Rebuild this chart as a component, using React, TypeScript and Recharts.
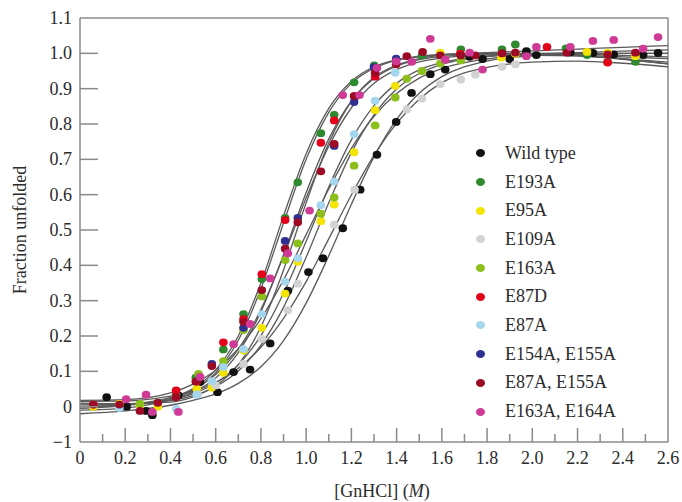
import React from "react"
import { ComposedChart, Line, Scatter, XAxis, YAxis, ReferenceLine } from "recharts"

// measured points, [GnHCl] (M) vs fraction unfolded
const wildType = [[0.118,0.027],[0.206,0.0],[0.292,-0.012],[0.32,-0.024],[0.435,0.032],[0.531,0.07],[0.608,0.041],[0.679,0.098],[0.752,0.105],[0.841,0.179],[0.919,0.328],[1.01,0.381],[1.074,0.42],[1.162,0.505],[1.239,0.614],[1.313,0.713],[1.398,0.806],[1.466,0.888],[1.549,0.941],[1.615,0.954],[1.723,0.99],[1.78,0.984],[1.9,0.984],[1.974,1.006],[2.018,0.995],[2.168,1.003],[2.268,1.001],[2.36,0.997],[2.49,0.995],[2.556,1.001]]
const e193a = [[0.265,0.006],[0.344,0.011],[0.425,0.034],[0.512,0.082],[0.634,0.162],[0.723,0.262],[0.804,0.361],[0.907,0.534],[0.963,0.635],[1.065,0.774],[1.124,0.826],[1.212,0.918],[1.301,0.966],[1.512,0.994],[1.684,1.011],[1.866,1.011],[1.925,1.025],[2.149,1.014],[2.242,0.995],[2.333,0.976],[2.456,0.976]]
const e95a = [[0.059,0.0],[0.174,0.008],[0.265,0.005],[0.344,0.0],[0.516,0.051],[0.583,0.054],[0.634,0.096],[0.723,0.159],[0.804,0.223],[0.907,0.32],[0.963,0.41],[1.065,0.525],[1.124,0.572],[1.212,0.72],[1.305,0.839],[1.394,0.908],[1.593,1.002],[1.863,0.988],[1.925,0.999],[2.242,1.004],[2.333,1.002],[2.456,0.992]]
const e109a = [[0.52,0.035],[0.6,0.06],[0.723,0.121],[0.804,0.192],[0.919,0.273],[0.963,0.348],[1.124,0.515],[1.214,0.614],[1.445,0.841],[1.512,0.872],[1.593,0.913],[1.684,0.926],[1.748,0.94],[1.866,0.962],[1.925,0.969]]
const e163a = [[0.265,0.008],[0.524,0.093],[0.634,0.129],[0.723,0.217],[0.804,0.312],[0.907,0.415],[0.963,0.462],[1.065,0.546],[1.124,0.592],[1.212,0.682],[1.305,0.796],[1.394,0.875],[1.445,0.928],[1.512,0.95],[1.593,0.971],[1.684,0.98]]
const e87d = [[0.059,0.006],[0.425,0.046],[0.516,0.071],[0.634,0.182],[0.723,0.248],[0.804,0.375],[0.907,0.528],[1.065,0.747],[1.124,0.81],[1.212,0.879],[1.305,0.934],[1.681,0.999],[1.866,1.0],[2.065,1.018],[2.333,0.974]]
const e87a = [[0.174,-0.004],[0.425,-0.006],[0.516,0.034],[0.583,0.072],[0.634,0.112],[0.723,0.163],[0.804,0.262],[0.907,0.354],[0.963,0.42],[1.065,0.57],[1.124,0.637],[1.212,0.771],[1.305,0.866],[1.394,0.945]]
const e154a155a = [[0.583,0.121],[0.723,0.223],[0.907,0.469],[0.963,0.534],[1.124,0.738],[1.212,0.862],[1.3,0.961],[1.398,0.985]]
const e87a155a = [[0.059,0.006],[0.174,0.006],[0.265,-0.012],[0.344,0.011],[0.425,0.027],[0.512,0.071],[0.583,0.115],[0.723,0.24],[0.804,0.33],[0.907,0.447],[0.963,0.522],[1.065,0.666],[1.124,0.744],[1.212,0.879],[1.305,0.945],[1.398,0.969],[1.445,0.992],[1.515,1.004],[1.593,0.994],[1.684,0.994],[1.748,0.994],[1.866,1.0],[1.925,1.002],[2.153,1.002],[2.333,0.997],[2.456,1.002]]
const e163a164a = [[0.204,0.021],[0.292,0.034],[0.32,-0.015],[0.435,-0.015],[0.531,0.084],[0.679,0.177],[0.752,0.234],[0.841,0.363],[0.919,0.434],[1.015,0.555],[1.162,0.882],[1.236,0.882],[1.313,0.959],[1.398,0.977],[1.467,0.976],[1.549,1.041],[1.615,0.982],[1.723,1.002],[1.78,0.954],[1.974,0.992],[2.018,1.018],[2.168,1.018],[2.268,1.035],[2.36,1.038],[2.49,1.013],[2.556,1.046]]

// fitted curves at these x positions
const curveX = [0, 0.2, 0.4, 0.5, 0.6, 0.7, 0.8, 0.9, 1.0, 1.1, 1.2, 1.3, 1.4, 1.5, 1.6, 1.8, 2.0, 2.2, 2.4, 2.6]
const wildTypeFit = [-0.02, -0.012, 0.004, 0.018, 0.036, 0.066, 0.113, 0.187, 0.293, 0.427, 0.573, 0.707, 0.813, 0.887, 0.934, 0.978, 0.993, 0.998, 1.0, 1.0]
const e193aFit = [-0.01, -0.004, 0.022, 0.051, 0.104, 0.2, 0.35, 0.54, 0.716, 0.844, 0.921, 0.962, 0.982, 0.992, 0.997, 1.0, 0.998, 0.993, 0.985, 0.975]
const e95aFit = [0.0, 0.004, 0.017, 0.031, 0.057, 0.101, 0.174, 0.281, 0.423, 0.577, 0.719, 0.826, 0.899, 0.943, 0.969, 0.991, 0.997, 0.995, 0.99, 0.985]
const e109aFit = [0.015, 0.016, 0.03, 0.043, 0.069, 0.109, 0.168, 0.25, 0.354, 0.475, 0.599, 0.711, 0.802, 0.87, 0.917, 0.96, 0.975, 0.978, 0.972, 0.962]
const e163aFit = [0.018, 0.02, 0.039, 0.064, 0.103, 0.164, 0.249, 0.359, 0.487, 0.616, 0.731, 0.822, 0.886, 0.93, 0.957, 0.984, 0.994, 0.993, 0.984, 0.97]
const e87dFit = [0.0, 0.005, 0.022, 0.047, 0.096, 0.188, 0.334, 0.52, 0.7, 0.833, 0.915, 0.958, 0.98, 0.99, 0.996, 1.0, 1.0, 0.994, 0.983, 0.97]
const e87aFit = [0.005, 0.006, 0.02, 0.037, 0.067, 0.119, 0.201, 0.321, 0.468, 0.622, 0.755, 0.852, 0.915, 0.953, 0.974, 0.992, 0.998, 1.0, 1.0, 1.0]
const e154a155aFit = [0.008, 0.008, 0.021, 0.041, 0.081, 0.153, 0.269, 0.43, 0.606, 0.758, 0.865, 0.929, 0.964, 0.982, 0.991, 0.998, 1.0, 0.998, 0.994, 0.99]
const e87a155aFit = [-0.005, 0.004, 0.026, 0.049, 0.091, 0.163, 0.275, 0.426, 0.591, 0.737, 0.846, 0.915, 0.954, 0.976, 0.987, 0.996, 0.999, 1.002, 1.006, 1.01]
const e163a164aFit = [0.01, 0.008, 0.013, 0.028, 0.059, 0.119, 0.226, 0.387, 0.577, 0.746, 0.864, 0.932, 0.967, 0.985, 0.995, 1.002, 1.007, 1.012, 1.017, 1.022]

const names = ["Wild type", "E193A", "E95A", "E109A", "E163A", "E87D", "E87A", "E154A, E155A", "E87A, E155A", "E163A, E164A"]
const colors = ["#111111", "#2f8a2f", "#f5e400", "#d2d2d2", "#8cbf1c", "#e3001b", "#a6d6ee", "#2e3192", "#9c0a25", "#cf3a97"]
const points = [wildType, e193a, e95a, e109a, e163a, e87d, e87a, e154a155a, e87a155a, e163a164a]
const fits = [wildTypeFit, e193aFit, e95aFit, e109aFit, e163aFit, e87dFit, e87aFit, e154a155aFit, e87a155aFit, e163a164aFit]

const xTicks = [0, 0.1, 0.2, 0.3, 0.4, 0.5, 0.6, 0.7, 0.8, 0.9, 1.0, 1.1, 1.2, 1.3, 1.4, 1.5, 1.6, 1.7, 1.8, 1.9, 2.0, 2.1, 2.2, 2.3, 2.4, 2.5, 2.6]
const yTicks = [-0.1, 0, 0.1, 0.2, 0.3, 0.4, 0.5, 0.6, 0.7, 0.8, 0.9, 1.0, 1.1]

const FONT = "'Liberation Serif', 'Times New Roman', serif"
const AXIS = "#8a8a8a"
const TEXT = "#2b2b2b"
const X_AXIS_Y = 442
const Y_AXIS_X = 80

const XTick = (props: any) => {
  const { x, payload } = props
  const v = payload.value
  const major = Math.round(v * 10) % 2 === 0
  return (
    <g>
      {v > 0 && v < 2.6 && (
        <line x1={x} x2={x} y1={X_AXIS_Y} y2={X_AXIS_Y - (major ? 14 : 8)} stroke={AXIS} strokeWidth={1.5} />
      )}
      {major && (
        <text x={x} y={464} textAnchor="middle" fontSize={18} fontFamily={FONT} fill={TEXT}>
          {v === 0 ? "0" : v.toFixed(1)}
        </text>
      )}
    </g>
  )
}

const YTick = (props: any) => {
  const { y, payload } = props
  const v = payload.value
  let label = v.toFixed(1)
  if (Math.abs(v) < 1e-9) label = "0"
  if (v < -0.05) label = "\u22121"
  return (
    <g>
      {v > -0.05 && v < 1.05 && (
        <line x1={Y_AXIS_X} x2={Y_AXIS_X + 18} y1={y} y2={y} stroke={AXIS} strokeWidth={1.5} />
      )}
      <text x={72} y={y + 6} textAnchor="end" fontSize={18} fontFamily={FONT} fill={TEXT}>
        {label}
      </text>
    </g>
  )
}

const XTitle = () => (
  <text x={382} y={497} textAnchor="middle" fontSize={18} fontFamily={FONT} fill={TEXT}>
    [GnHCl] (<tspan fontStyle="italic">M</tspan>)
  </text>
)

const YTitle = () => (
  <text x={26} y={230} textAnchor="middle" fontSize={18} fontFamily={FONT} fill={TEXT} transform="rotate(-90 26 230)">
    Fraction unfolded
  </text>
)

function SeriesLegend() {
  return (
    <div style={{ position: "absolute", left: 471, top: 139, fontFamily: FONT, fontSize: 18, color: TEXT }}>
      {names.map((n, i) => (
        <div key={n} style={{ height: 28.7, display: "flex", alignItems: "center", whiteSpace: "nowrap" }}>
          <span style={{ display: "inline-block", width: 9, height: 8, borderRadius: "50%", background: colors[i], marginLeft: 5, marginRight: 20 }} />
          <span>{n}</span>
        </div>
      ))}
    </div>
  )
}

export default function App() {
  return (
    <div style={{ position: "absolute", left: 0, top: 0, width: 682, height: 502, background: "#fff" }}>
      <ComposedChart width={682} height={502} margin={{ top: 18, right: 14, bottom: 0, left: 0 }}>
        <XAxis
          type="number"
          dataKey="x"
          domain={[0, 2.6]}
          ticks={xTicks}
          interval={0}
          tick={<XTick />}
          tickLine={false}
          axisLine={{ stroke: AXIS, strokeWidth: 1.5 }}
          height={60}
          label={<XTitle />}
          allowDataOverflow
        />
        <YAxis
          type="number"
          domain={[-0.1, 1.1]}
          ticks={yTicks}
          interval={0}
          tick={<YTick />}
          tickLine={false}
          axisLine={{ stroke: AXIS, strokeWidth: 1.5 }}
          width={80}
          label={<YTitle />}
          allowDataOverflow
        />
        <ReferenceLine y={1.1} stroke={AXIS} strokeWidth={1.5} />
        <ReferenceLine x={2.6} stroke={AXIS} strokeWidth={1.5} />
        {fits.map((f, i) => (
          <Line
            key={`fit-${i}`}
            data={curveX.map((x, j) => ({ x, y: f[j] }))}
            dataKey="y"
            type="monotone"
            stroke="#5a5a5a"
            strokeWidth={1.3}
            dot={false}
            activeDot={false}
            legendType="none"
            isAnimationActive={false}
          />
        ))}
        {points.map((p, i) => (
          <Scatter
            key={names[i]}
            name={names[i]}
            data={p.map(([x, y]) => ({ x, y }))}
            dataKey="y"
            fill={colors[i]}
            isAnimationActive={false}
            shape={(s: any) => <ellipse cx={s.cx} cy={s.cy} rx={4.3} ry={3.9} fill={colors[i]} />}
          />
        ))}
      </ComposedChart>
      <SeriesLegend />
    </div>
  )
}
